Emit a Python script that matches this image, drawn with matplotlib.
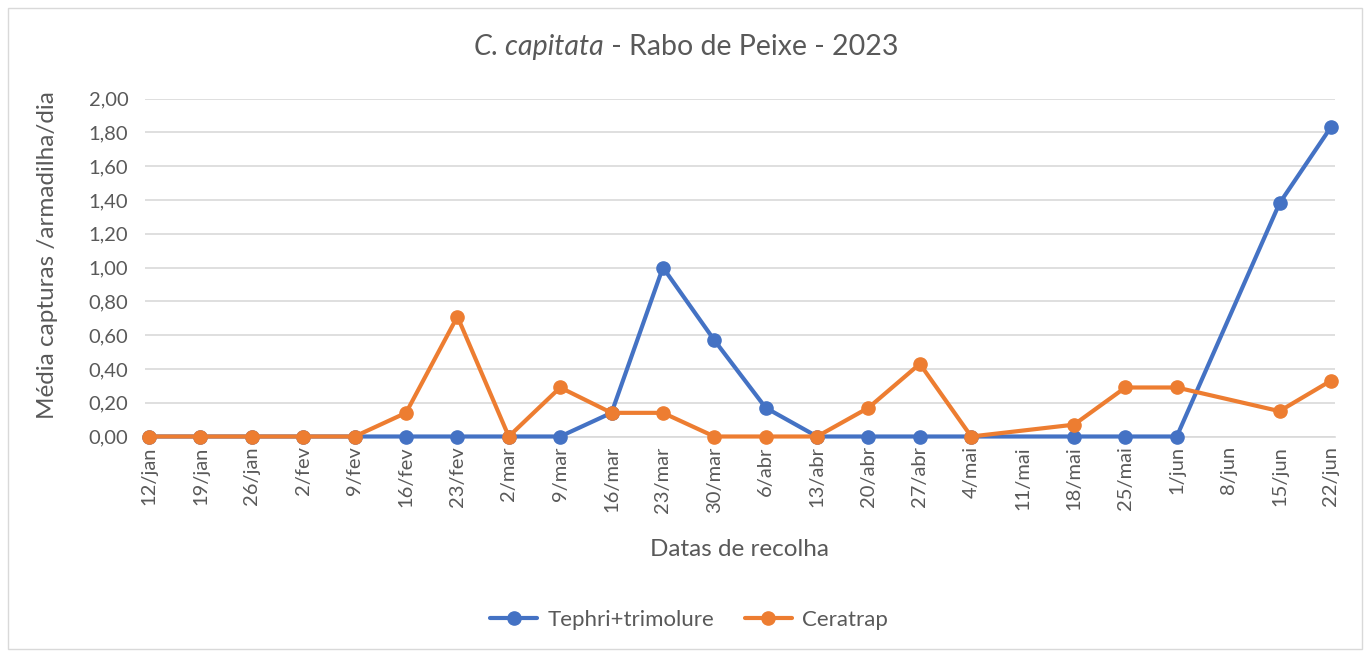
import numpy as np
import matplotlib
matplotlib.use("Agg")
import matplotlib.pyplot as plt
from matplotlib.patches import Rectangle
from matplotlib.ticker import FuncFormatter, MultipleLocator

plt.rcParams['font.family'] = ['Lato', 'DejaVu Sans']

dates = ["12/jan", "19/jan", "26/jan", "2/fev", "9/fev", "16/fev", "23/fev", "2/mar",
         "9/mar", "16/mar", "23/mar", "30/mar", "6/abr", "13/abr", "20/abr", "27/abr",
         "4/mai", "11/mai", "18/mai", "25/mai", "1/jun", "8/jun", "15/jun", "22/jun"]
nan = np.nan
tephri = [0, 0, 0, 0, 0, 0, 0, 0, 0, 0.14, 1.00, 0.57, 0.17, 0, 0, 0,
          0, nan, 0, 0, 0, nan, 1.38, 1.83]
ceratrap = [0, 0, 0, 0, 0, 0.14, 0.71, 0, 0.29, 0.14, 0.14, 0, 0, 0, 0.17, 0.43,
            0, nan, 0.07, 0.29, 0.29, nan, 0.15, 0.33]
series_names = ["Tephri+trimolure", "Ceratrap"]
colors = ["#4472C4", "#ED7D31"]

W, H = 1370, 657
fig = plt.figure(figsize=(W / 100, H / 100), dpi=100)
fig.patches.append(Rectangle((8 / W, 8 / H), 1354 / W, 641 / H, transform=fig.transFigure,
                             fill=False, edgecolor="#D9D9D9", linewidth=1.0))

ax = fig.add_axes([145 / W, 1 - 436.5 / H, 1190 / W, 338 / H])
grey = "#595959"

for vals, name, c in zip([tephri, ceratrap], series_names, colors):
    v = np.array(vals, dtype=float)
    x = np.arange(len(v))
    m = ~np.isnan(v)
    ax.plot(x[m], v[m], color=c, linewidth=3, marker="o", markersize=9.5,
            label=name, clip_on=False, zorder=3, solid_capstyle="round")

ax.set_xlim(-0.08, len(dates) - 1 + 0.08)
ax.set_ylim(0, 2.0)
ax.yaxis.set_major_locator(MultipleLocator(0.2))
ax.yaxis.set_major_formatter(FuncFormatter(lambda v, p: f"{v:.2f}".replace(".", ",")))
ax.set_xticks(np.arange(len(dates)))
ax.set_xticklabels(dates, rotation=90)
ax.grid(axis="y", color="#D9D9D9", linewidth=1.2)
ax.set_axisbelow(True)
for s in ["top", "right", "left"]:
    ax.spines[s].set_visible(False)
ax.spines["bottom"].set_color("#D9D9D9")
ax.spines["bottom"].set_linewidth(1.2)
ax.tick_params(axis="both", length=0, colors=grey, labelsize=14.5)
ax.tick_params(axis="x", pad=7)
ax.tick_params(axis="y", pad=12)

fig.text(48 / W, 1 - 255 / H, "Média capturas /armadilha/dia", fontsize=17.5, color=grey,
         rotation=90, ha="center", va="center")
fig.text(740 / W, 1 - 549 / H, "Datas de recolha", fontsize=17.5, color=grey,
         ha="center", va="center")

t1 = fig.text(0, 0, "C. capitata", fontsize=20.5, color=grey, style="italic", va="center")
t2 = fig.text(0, 0, " - Rabo de Peixe - 2023", fontsize=20.5, color=grey, va="center")
fig.canvas.draw()
r = fig.canvas.get_renderer()
w1 = t1.get_window_extent(r).width
w2 = t2.get_window_extent(r).width
x0 = 686 - (w1 + w2) / 2
t1.set_position((x0 / W, 1 - 47 / H))
t2.set_position(((x0 + w1) / W, 1 - 47 / H))

leg = fig.legend(loc="center", bbox_to_anchor=(689 / W, 1 - 620 / H), ncol=2, frameon=False,
                 fontsize=16, handlelength=2.1, columnspacing=1.4, handletextpad=0.45)
for t in leg.get_texts():
    t.set_color(grey)

fig.savefig("out.png", dpi=100)
